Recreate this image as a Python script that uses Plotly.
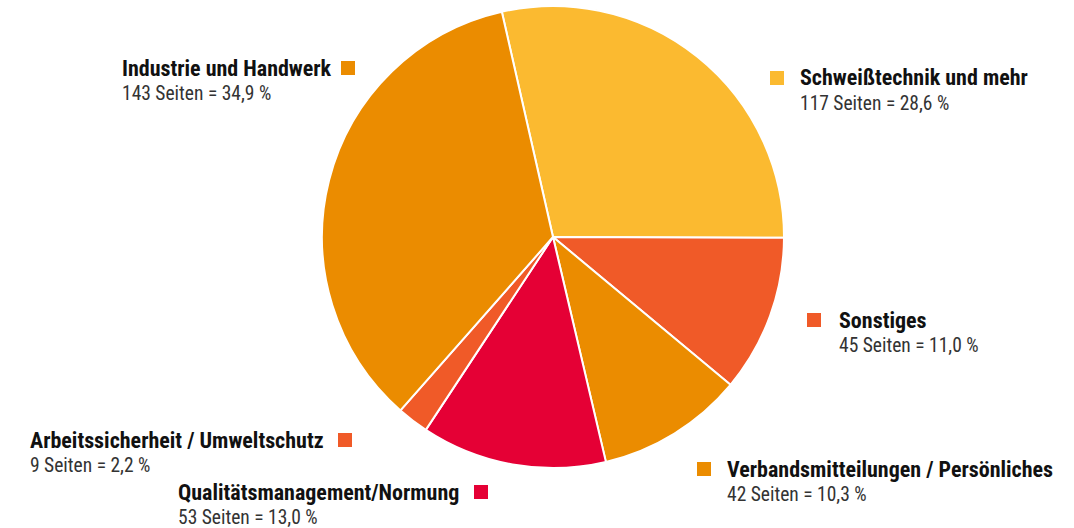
import plotly.graph_objects as go

categories = ["Schweißtechnik und mehr", "Sonstiges", "Verbandsmitteilungen / Persönliches",
              "Qualitätsmanagement/Normung", "Arbeitssicherheit / Umweltschutz", "Industrie und Handwerk"]
pages = [117, 45, 42, 53, 9, 143]
percent_labels = ["28,6 %", "11,0 %", "10,3 %", "13,0 %", "2,2 %", "34,9 %"]
colors = ["#FBBA30", "#F05A28", "#EB8C00", "#E50035", "#F05A28", "#EB8C00"]

W, H = 1074, 528

def px(x):
    return x / W

def py(y):
    return 1 - y / H

fig = go.Figure(go.Pie(
    labels=categories, values=pages, sort=False, direction="clockwise",
    rotation=-12.8, marker=dict(colors=colors, line=dict(color="white", width=2)),
    textinfo="none", hoverinfo="label+value+percent",
    domain=dict(x=[px(553 - 231), px(553 + 231)], y=[py(468), py(6)]),
))

# label layout: (text x, title y, square x)
label_pos = [
    (800, 78, 770),
    (839, 320, 807),
    (727, 469, 697),
    (178, 492, 474),
    (30, 440, 338),
    (122, 68, 341),
]

font = "Liberation Sans Narrow, Roboto Condensed, Arial Narrow, Liberation Sans, sans-serif"
annotations = []
shapes = []
for cat, n, pct, col, (tx, ty, sx) in zip(categories, pages, percent_labels, colors, label_pos):
    annotations.append(dict(x=px(tx - 2), y=py(ty), xref="paper", yref="paper", xanchor="left",
                            yanchor="middle", showarrow=False, text=f"<b>{cat}</b>",
                            font=dict(family=font, size=22, color="#111111")))
    annotations.append(dict(x=px(tx - 2), y=py(ty + 25), xref="paper", yref="paper", xanchor="left",
                            yanchor="middle", showarrow=False, text=f"{n} Seiten = {pct}",
                            font=dict(family=font, size=19.5, color="#333333")))
    shapes.append(dict(type="rect", xref="paper", yref="paper", x0=px(sx), x1=px(sx + 14),
                       y0=py(ty - 7), y1=py(ty + 7), fillcolor=col, line=dict(width=0)))

fig.update_layout(width=W, height=H, margin=dict(l=0, r=0, t=0, b=0), showlegend=False,
                  paper_bgcolor="white", plot_bgcolor="white",
                  annotations=annotations, shapes=shapes)
fig.write_html("out.html", config={"displayModeBar": False},
               post_script="document.body.style.margin='0';")
